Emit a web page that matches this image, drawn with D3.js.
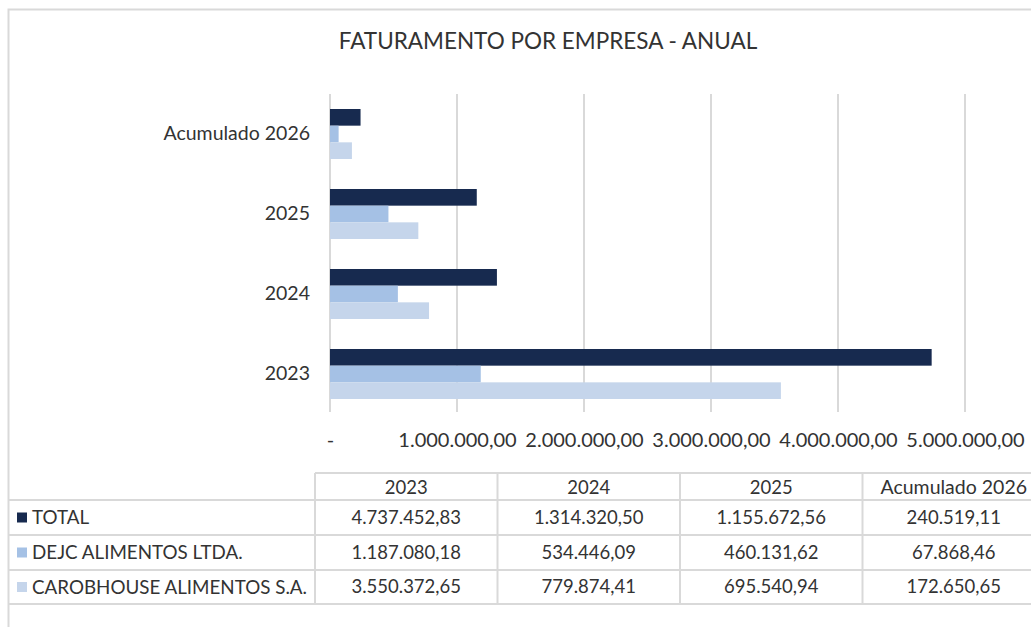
<!DOCTYPE html>
<html>
<head>
<meta charset="utf-8">
<script src="https://cdn.jsdelivr.net/npm/d3@7"></script>
<style>
  body { margin: 0; background: #fff; }
  text { font-family: Lato, "Open Sans", sans-serif; fill: #333; }
</style>
</head>
<body>
<div id="chart"></div>
<script>
/**
 * DATA
 * */
const years = ["2023", "2024", "2025", "Acumulado 2026"];
const seriesNames = ["TOTAL", "DEJC ALIMENTOS LTDA.", "CAROBHOUSE ALIMENTOS S.A."];
const total = [4737452.83, 1314320.50, 1155672.56, 240519.11];
const dejc = [1187080.18, 534446.09, 460131.62, 67868.46];
const carob = [3550372.65, 779874.41, 695540.94, 172650.65];
const xTicks = [0, 1000000, 2000000, 3000000, 4000000, 5000000];
const colors = ["#172a4f", "#a5c1e5", "#c5d5eb"];

const width = 1031,
  height = 627;

const seriesValues = [total, dejc, carob];

const br = d3.formatLocale({ decimal: ",", thousands: ".", grouping: [3], currency: ["R$", ""] });
const fmt = br.format(",.2f");

const svg = d3.select("#chart")
  .append("svg")
  .attr("width", width)
  .attr("height", height);

// chart frame
svg.append("rect")
  .attr("x", 8.5).attr("y", 9.5)
  .attr("width", 1040).attr("height", 640)
  .attr("fill", "none")
  .attr("stroke", "#d9d9d9")
  .attr("stroke-width", 2);

// title
svg.append("text")
  .attr("x", 548).attr("y", 49)
  .attr("text-anchor", "middle")
  .style("font-size", "22.5px")
  .text("FATURAMENTO POR EMPRESA - ANUAL");

// scales
const x = d3.scaleLinear().domain([0, 5000000]).range([330, 965]);

const y = d3.scaleBand()
  .domain(years.slice().reverse())
  .range([94, 414])
  .paddingInner(0.375)
  .paddingOuter(0.1875);

const ySeries = d3.scaleBand()
  .domain(seriesNames)
  .range([0, y.bandwidth()]);

// gridlines
svg.append("g")
  .selectAll("line")
  .data(xTicks)
  .join("line")
  .attr("x1", d => x(d)).attr("x2", d => x(d))
  .attr("y1", 94).attr("y2", 412)
  .attr("stroke", "#d9d9d9")
  .attr("stroke-width", 2);

// x axis labels
const xAxis = d3.axisBottom(x)
  .tickValues(xTicks)
  .tickSize(0)
  .tickPadding(0)
  .tickFormat(d => d === 0 ? "-" : fmt(d));

svg.append("g")
  .attr("transform", "translate(0,447)")
  .call(xAxis)
  .call(g => g.select(".domain").remove())
  .selectAll("text")
  .attr("dy", 0)
  .style("font-size", "20px")
  .style("fill", "#333");

// y axis labels
const yAxis = d3.axisLeft(y).tickSize(0).tickPadding(20);
svg.append("g")
  .attr("transform", "translate(330,0)")
  .call(yAxis)
  .call(g => g.select(".domain").remove())
  .selectAll("text")
  .style("font-size", "19.5px")
  .style("fill", "#333");

// bars
const rows = years.map((yr, i) => ({ year: yr, values: seriesNames.map((s, j) => ({ name: s, value: seriesValues[j][i], color: colors[j] })) }));

const groups = svg.append("g")
  .selectAll("g")
  .data(rows)
  .join("g")
  .attr("transform", d => `translate(0,${y(d.year)})`);

groups.selectAll("rect")
  .data(d => d.values)
  .join("rect")
  .attr("x", x(0))
  .attr("y", d => ySeries(d.name))
  .attr("width", d => x(d.value) - x(0))
  .attr("height", ySeries.bandwidth())
  .attr("fill", d => d.color);

// data table
const colX = [315, 497.5, 680, 862.5, 1045];
const rowY = [473, 500, 535, 570, 604];
const table = svg.append("g");
const lineColor = "#d9d9d9";

// header top line
table.append("line")
  .attr("x1", colX[0]).attr("x2", width + 20)
  .attr("y1", rowY[0]).attr("y2", rowY[0])
  .attr("stroke", lineColor).attr("stroke-width", 2);
// row lines
rowY.slice(1).forEach(yy => {
  table.append("line")
    .attr("x1", 8).attr("x2", width + 20)
    .attr("y1", yy).attr("y2", yy)
    .attr("stroke", lineColor).attr("stroke-width", 2);
});
// column lines
colX.forEach(xx => {
  table.append("line")
    .attr("x1", xx).attr("x2", xx)
    .attr("y1", rowY[0]).attr("y2", rowY[4])
    .attr("stroke", lineColor).attr("stroke-width", 2);
});

// header text
years.forEach((yr, i) => {
  table.append("text")
    .attr("x", (colX[i] + colX[i + 1]) / 2)
    .attr("y", (rowY[0] + rowY[1]) / 2 + 1)
    .attr("dy", "0.35em")
    .attr("text-anchor", "middle")
    .style("font-size", i === 3 ? "19.5px" : "18.5px")
    .text(yr);
});

// series rows
seriesNames.forEach((s, j) => {
  const cy = (rowY[j + 1] + rowY[j + 2]) / 2;
  table.append("rect")
    .attr("x", 17).attr("y", cy - 5)
    .attr("width", 10).attr("height", 10)
    .attr("fill", colors[j]);
  table.append("text")
    .attr("x", 32).attr("y", cy)
    .attr("dy", "0.35em")
    .style("font-size", "18.8px")
    .text(s);
  seriesValues[j].forEach((v, i) => {
    table.append("text")
      .attr("x", (colX[i] + colX[i + 1]) / 2)
      .attr("y", cy)
      .attr("dy", "0.35em")
      .attr("text-anchor", "middle")
      .style("font-size", "18.5px")
      .text(fmt(v));
  });
});
</script>
</body>
</html>
